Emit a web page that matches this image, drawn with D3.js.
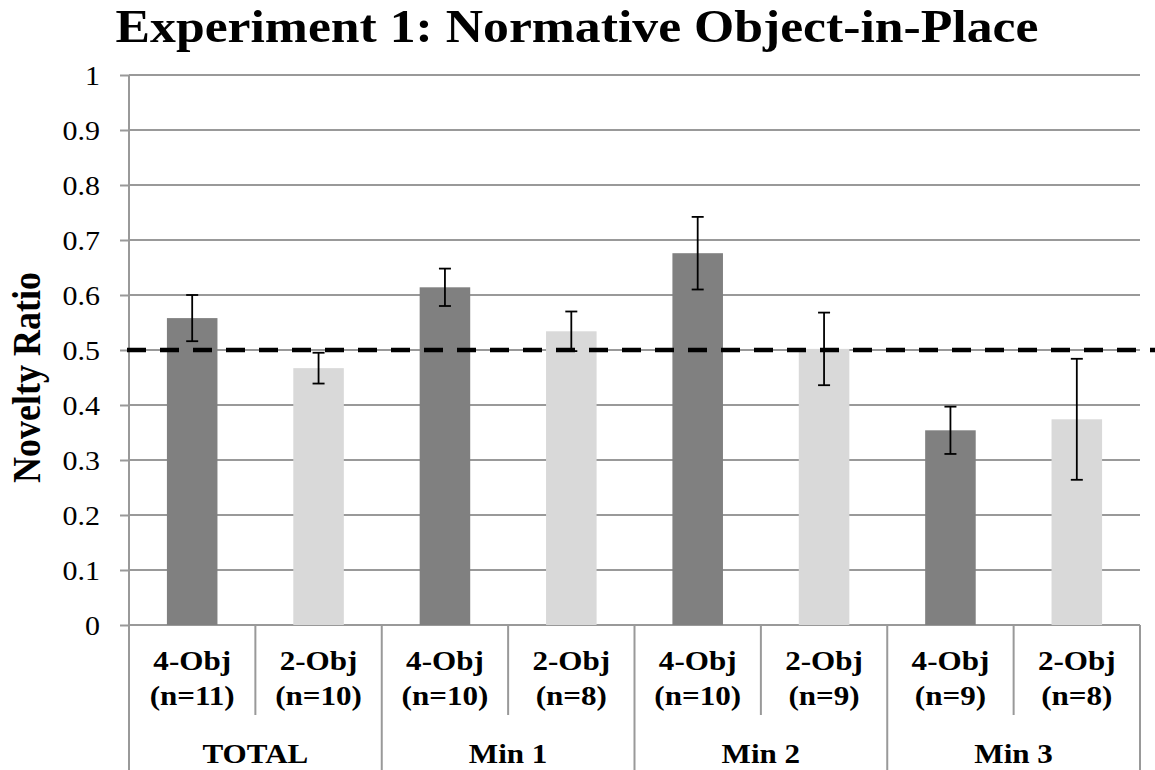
<!DOCTYPE html>
<html>
<head>
<meta charset="utf-8">
<script src="https://cdn.jsdelivr.net/npm/d3@7/dist/d3.min.js"></script>
<style>
  html, body { margin: 0; padding: 0; background: #fff; }
  svg { display: block; }
  text { font-family: "Liberation Serif", "Times New Roman", serif; fill: #000; }
</style>
</head>
<body>
<script>
const conditions = ["4-Obj", "2-Obj", "4-Obj", "2-Obj", "4-Obj", "2-Obj", "4-Obj", "2-Obj"];
const nLabels = ["(n=11)", "(n=10)", "(n=10)", "(n=8)", "(n=10)", "(n=9)", "(n=9)", "(n=8)"];
const groups = ["TOTAL", "Min 1", "Min 2", "Min 3"];
const means = [0.558, 0.467, 0.614, 0.534, 0.676, 0.502, 0.354, 0.374];
const errors = [0.042, 0.028, 0.034, 0.036, 0.066, 0.066, 0.043, 0.110];
const yTicks = [0, 0.1, 0.2, 0.3, 0.4, 0.5, 0.6, 0.7, 0.8, 0.9, 1];
const yTickLabels = ["0", "0.1", "0.2", "0.3", "0.4", "0.5", "0.6", "0.7", "0.8", "0.9", "1"];
const chanceLevel = 0.5;
const chartTitle = "Experiment 1: Normative Object-in-Place";
const yTitle = "Novelty Ratio";

(function () {
const W = 1155, H = 770;
const mLeft = 129, mRight = 1140, mTop = 75, mBottom = 625;
const sx = 1.11; // horizontal stretch of text
const gridColor = "#999999";

const svg = d3.select("body").append("svg").attr("width", W).attr("height", H);

const x = d3.scaleBand().domain(d3.range(conditions.length)).range([mLeft, mRight])
  .paddingInner(0.6).paddingOuter(0.3);
const y = d3.scaleLinear().domain([0, 1]).range([mBottom, mTop]);
const step = x.step();
const bandStart = i => mLeft + i * step;

// gridlines
svg.append("g").selectAll("line").data(yTicks.filter(d => d > 0)).join("line")
  .attr("x1", mLeft).attr("x2", mRight)
  .attr("y1", d => y(d)).attr("y2", d => y(d))
  .attr("stroke", gridColor).attr("stroke-width", 2);

// y axis
const yAxis = d3.axisLeft(y).tickValues(yTicks).tickSize(9).tickFormat((d, i) => yTickLabels[i]);
const ya = svg.append("g").attr("transform", `translate(${mLeft},0)`).call(yAxis);
ya.attr("font-family", null).attr("font-size", null);
ya.select(".domain").remove();
ya.selectAll(".tick line").attr("stroke", gridColor).attr("stroke-width", 2);
ya.selectAll(".tick text").remove();
ya.selectAll(".tick").append("text")
  .attr("transform", `translate(-29,9) scale(${sx},1)`)
  .attr("text-anchor", "end")
  .style("font-size", "27px")
  .text((d, i) => yTickLabels[i]);

// axis lines
svg.append("line").attr("x1", mLeft).attr("x2", mLeft).attr("y1", mTop).attr("y2", H)
  .attr("stroke", gridColor).attr("stroke-width", 2);
svg.append("line").attr("x1", mLeft).attr("x2", mRight).attr("y1", mBottom).attr("y2", mBottom)
  .attr("stroke", gridColor).attr("stroke-width", 2);

// category separators
const seps = d3.range(1, conditions.length + 1);
svg.append("g").selectAll("line").data(seps).join("line")
  .attr("x1", i => bandStart(i)).attr("x2", i => bandStart(i))
  .attr("y1", mBottom)
  .attr("y2", i => (i % 2 === 0) ? H : 715)
  .attr("stroke", gridColor).attr("stroke-width", 2);

// bars
svg.append("g").selectAll("rect").data(means).join("rect")
  .attr("x", (d, i) => x(i)).attr("width", x.bandwidth())
  .attr("y", d => y(d)).attr("height", d => y(0) - y(d))
  .attr("fill", (d, i) => i % 2 === 0 ? "#808080" : "#d9d9d9");

// error bars
const eb = svg.append("g").attr("stroke", "#000").attr("stroke-width", 1.8);
means.forEach((m, i) => {
  const cx = x(i) + x.bandwidth() / 2;
  eb.append("line").attr("x1", cx).attr("x2", cx).attr("y1", y(m + errors[i])).attr("y2", y(m - errors[i]));
  eb.append("line").attr("x1", cx - 6).attr("x2", cx + 6).attr("y1", y(m + errors[i])).attr("y2", y(m + errors[i]));
  eb.append("line").attr("x1", cx - 6).attr("x2", cx + 6).attr("y1", y(m - errors[i])).attr("y2", y(m - errors[i]));
});

// chance line
svg.append("line").attr("x1", mLeft - 2).attr("x2", W).attr("y1", y(chanceLevel)).attr("y2", y(chanceLevel))
  .attr("stroke", "#000").attr("stroke-width", 4.3).attr("stroke-dasharray", "19,14");

// category labels
const cl = svg.append("g");
conditions.forEach((c, i) => {
  const cx = bandStart(i) + step / 2;
  cl.append("text").attr("transform", `translate(${cx},670) scale(${sx},1)`)
    .attr("text-anchor", "middle").style("font-size", "28px").style("font-weight", "bold").text(c);
  cl.append("text").attr("transform", `translate(${cx},705) scale(${sx},1)`)
    .attr("text-anchor", "middle").style("font-size", "28px").style("font-weight", "bold").text(nLabels[i]);
});
groups.forEach((g, j) => {
  const cx = bandStart(2 * j) + step;
  cl.append("text").attr("transform", `translate(${cx},763) scale(${sx},1)`)
    .attr("text-anchor", "middle").style("font-size", "28px").style("font-weight", "bold").text(g);
});

// title
svg.append("text").attr("transform", `translate(577,42) scale(1.10,1)`)
  .attr("text-anchor", "middle").style("font-size", "47px").style("font-weight", "bold").text(chartTitle);

// y title
svg.append("text").attr("transform", `translate(39.5,377.5) rotate(-90) scale(1,${sx})`)
  .attr("text-anchor", "middle").style("font-size", "36px").style("font-weight", "bold").text(yTitle);
})();
</script>
</body>
</html>
